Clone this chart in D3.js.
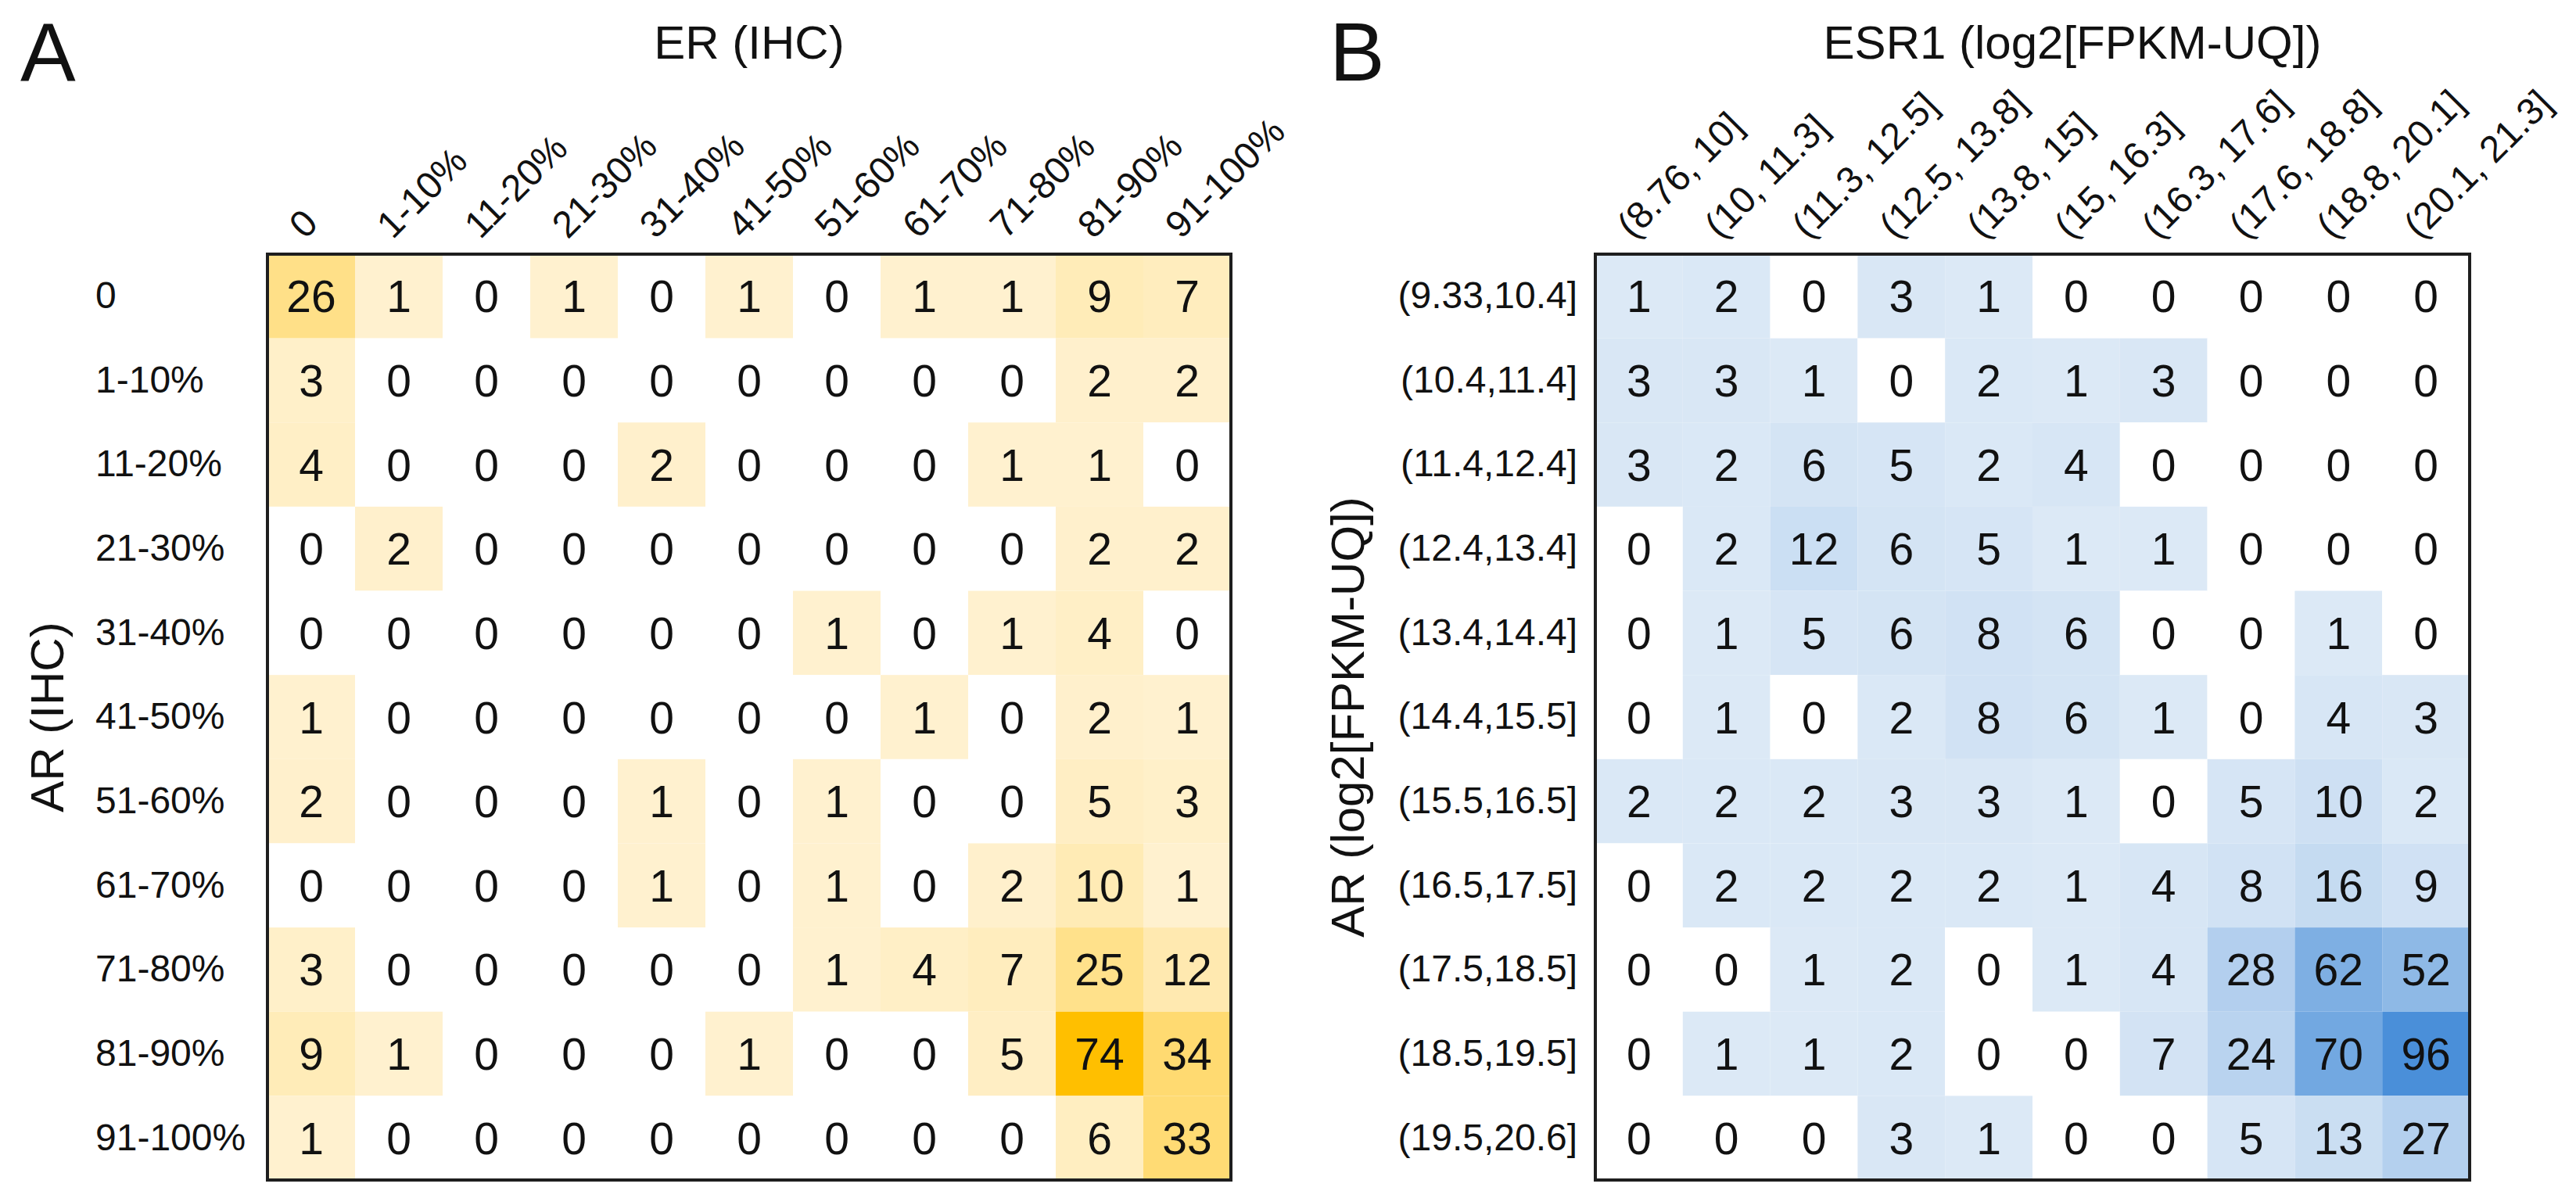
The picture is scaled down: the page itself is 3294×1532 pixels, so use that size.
<!DOCTYPE html>
<html lang="en">
  <head>
    <meta charset="UTF-8" />
    <title>AR vs ER / ESR1 contingency heatmaps</title>
    <script src="https://cdn.jsdelivr.net/npm/d3@7"></script>
    <style>
      body { margin: 0; background: #fff; }
      svg text { font-family: "Liberation Sans", Arial, Helvetica, sans-serif; fill: #111; }
    </style>
  </head>
  <body>
    <svg id="fig" width="3294" height="1532"></svg>

    <script>
      // Panel A - AR (IHC) rows vs ER (IHC) columns
      var erIhcBins = ["0", "1-10%", "11-20%", "21-30%", "31-40%", "41-50%",
        "51-60%", "61-70%", "71-80%", "81-90%", "91-100%"];
      var arIhcBins = ["0", "1-10%", "11-20%", "21-30%", "31-40%", "41-50%",
        "51-60%", "61-70%", "71-80%", "81-90%", "91-100%"];
      var countsA = [
        [26, 1, 0, 1, 0, 1, 0, 1, 1, 9, 7],
        [3, 0, 0, 0, 0, 0, 0, 0, 0, 2, 2],
        [4, 0, 0, 0, 2, 0, 0, 0, 1, 1, 0],
        [0, 2, 0, 0, 0, 0, 0, 0, 0, 2, 2],
        [0, 0, 0, 0, 0, 0, 1, 0, 1, 4, 0],
        [1, 0, 0, 0, 0, 0, 0, 1, 0, 2, 1],
        [2, 0, 0, 0, 1, 0, 1, 0, 0, 5, 3],
        [0, 0, 0, 0, 1, 0, 1, 0, 2, 10, 1],
        [3, 0, 0, 0, 0, 0, 1, 4, 7, 25, 12],
        [9, 1, 0, 0, 0, 1, 0, 0, 5, 74, 34],
        [1, 0, 0, 0, 0, 0, 0, 0, 0, 6, 33]
      ];

      // Panel B - AR (log2[FPKM-UQ]) rows vs ESR1 (log2[FPKM-UQ]) columns
      var esr1Bins = ["(8.76, 10]", "(10, 11.3]", "(11.3, 12.5]", "(12.5, 13.8]",
        "(13.8, 15]", "(15, 16.3]", "(16.3, 17.6]", "(17.6, 18.8]",
        "(18.8, 20.1]", "(20.1, 21.3]"];
      var arRnaBins = ["(9.33,10.4]", "(10.4,11.4]", "(11.4,12.4]", "(12.4,13.4]",
        "(13.4,14.4]", "(14.4,15.5]", "(15.5,16.5]", "(16.5,17.5]",
        "(17.5,18.5]", "(18.5,19.5]", "(19.5,20.6]"];
      var countsB = [
        [1, 2, 0, 3, 1, 0, 0, 0, 0, 0],
        [3, 3, 1, 0, 2, 1, 3, 0, 0, 0],
        [3, 2, 6, 5, 2, 4, 0, 0, 0, 0],
        [0, 2, 12, 6, 5, 1, 1, 0, 0, 0],
        [0, 1, 5, 6, 8, 6, 0, 0, 1, 0],
        [0, 1, 0, 2, 8, 6, 1, 0, 4, 3],
        [2, 2, 2, 3, 3, 1, 0, 5, 10, 2],
        [0, 2, 2, 2, 2, 1, 4, 8, 16, 9],
        [0, 0, 1, 2, 0, 1, 4, 28, 62, 52],
        [0, 1, 1, 2, 0, 0, 7, 24, 70, 96],
        [0, 0, 0, 3, 1, 0, 0, 5, 13, 27]
      ];

      var svg = d3.select("#fig");
      var top_ = 325, bottom_ = 1509;

      function heatmap(cfg) {
        var g = svg.append("g");
        var x = d3.scaleBand().domain(cfg.cols).range([cfg.left, cfg.right]);
        var y = d3.scaleBand().domain(cfg.rows).range([top_, bottom_]);
        var maxV = d3.max(cfg.counts, function (r) { return d3.max(r); });
        // zero cells stay white, the rest run light -> dark
        var color = d3.scaleLinear().domain([1, maxV]).range([cfg.lo, cfg.hi]);

        var cells = [];
        cfg.counts.forEach(function (row, i) {
          row.forEach(function (v, j) {
            cells.push({ r: cfg.rows[i], c: cfg.cols[j], v: v });
          });
        });

        g.selectAll("rect.cell")
          .data(cells)
          .join("rect")
          .attr("class", "cell")
          .attr("x", function (d) { return x(d.c); })
          .attr("y", function (d) { return y(d.r); })
          .attr("width", x.bandwidth())
          .attr("height", y.bandwidth())
          .attr("fill", function (d) { return d.v === 0 ? "#ffffff" : color(d.v); });

        g.selectAll("text.num")
          .data(cells)
          .join("text")
          .attr("class", "num")
          .attr("x", function (d) { return x(d.c) + x.bandwidth() / 2; })
          .attr("y", function (d) { return y(d.r) + y.bandwidth() / 2; })
          .attr("dy", "0.36em")
          .attr("text-anchor", "middle")
          .style("font-size", "57px")
          .text(function (d) { return d.v; });

        g.append("rect")
          .attr("x", cfg.left)
          .attr("y", top_)
          .attr("width", cfg.right - cfg.left)
          .attr("height", bottom_ - top_)
          .attr("fill", "none")
          .attr("stroke", "#1e1e1e")
          .attr("stroke-width", 4);

        // column labels, rotated
        var xAxis = g.append("g")
          .attr("transform", "translate(0," + top_ + ")")
          .call(d3.axisTop(x).tickSize(0));
        xAxis.select(".domain").remove();
        xAxis.selectAll("text")
          .attr("x", 0).attr("y", 0).attr("dy", null)
          .attr("text-anchor", "start")
          .attr("transform", "translate(-8,-18) rotate(-45)")
          .style("font-size", "48px")
          .attr("fill", "#111");

        // row labels
        var yAxis = g.append("g")
          .attr("transform", "translate(" + cfg.left + ",0)")
          .call(d3.axisLeft(y).tickSize(0));
        yAxis.select(".domain").remove();
        yAxis.selectAll("text")
          .attr("x", cfg.rowLabelX - cfg.left)
          .attr("text-anchor", cfg.rowAnchor)
          .style("font-size", "48px")
          .attr("fill", "#111");

        svg.append("text")
          .attr("x", cfg.titleX).attr("y", 75)
          .attr("text-anchor", "middle")
          .style("font-size", "60px")
          .text(cfg.xTitle);

        svg.append("text")
          .attr("transform", "translate(" + cfg.yTitleX + "," + (top_ + bottom_) / 2 + ") rotate(-90)")
          .attr("text-anchor", "middle")
          .style("font-size", "60px")
          .text(cfg.yTitle);

        svg.append("text")
          .attr("x", cfg.letterX).attr("y", 103)
          .style("font-size", "106px")
          .text(cfg.letter);
      }

      heatmap({
        letter: "A", letterX: 26,
        cols: erIhcBins, rows: arIhcBins, counts: countsA,
        left: 342, right: 1574,
        lo: "#fff1cf", hi: "#ffbf00",
        rowLabelX: 122, rowAnchor: "start",
        xTitle: "ER (IHC)", titleX: 958,
        yTitle: "AR (IHC)", yTitleX: 81
      });

      heatmap({
        letter: "B", letterX: 1700,
        cols: esr1Bins, rows: arRnaBins, counts: countsB,
        left: 2040, right: 3158,
        lo: "#dce9f6", hi: "#4a8fd9",
        rowLabelX: 2017, rowAnchor: "end",
        xTitle: "ESR1 (log2[FPKM-UQ])", titleX: 2650,
        yTitle: "AR (log2[FPKM-UQ])", yTitleX: 1744
      });
    </script>
  </body>
</html>
